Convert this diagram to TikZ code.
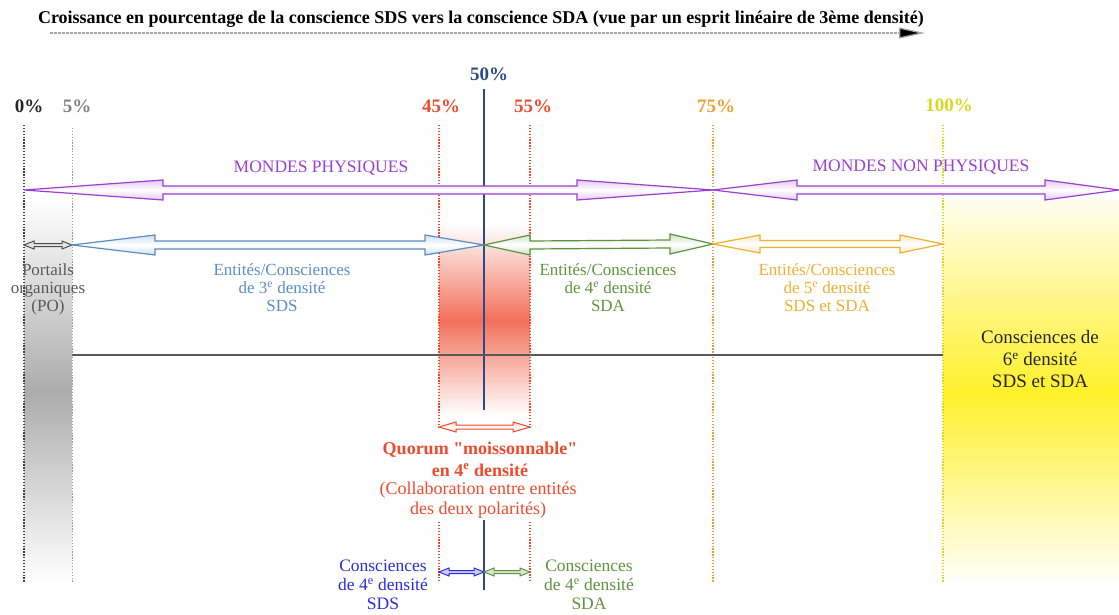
\documentclass[tikz,border=0pt]{standalone}
\usepackage{fontspec}
\setmainfont{Liberation Serif}
\newfontfamily\policeserif{Liberation Serif}
\usepackage{tikz}
\usetikzlibrary{calc,arrows.meta}
\definecolor{violet_f}{HTML}{9B3FD2}
\definecolor{bleu_f}{HTML}{5B8EC4}
\definecolor{bleu_t}{HTML}{2A4A8C}
\definecolor{bleu_v}{HTML}{2B2BE0}
\definecolor{vert_f}{HTML}{5E9440}
\definecolor{orange_f}{HTML}{F0B030}
\definecolor{orange_p}{HTML}{F0A030}
\definecolor{jaune_p}{HTML}{D8D820}
\definecolor{jaune_f}{HTML}{FFF02A}
\definecolor{rouge_f}{HTML}{F04A2C}
\definecolor{rouge_b}{HTML}{F2705A}

% double fleche pleine : #1 gauche, #2 droite, #3 pointe gauche, #4 pointe droite,
% #5 demi-hauteur de pointe, #6 demi-hauteur du corps, #7 style
\newcommand{\doublefleche}[7]{%
  \draw[#7] (#1) -- ($(#1)+(#3,#5)$) -- ($(#1)+(#3,#6)$) -- ($(#2)+(-#4,#6)$)
    -- ($(#2)+(-#4,#5)$) -- (#2) -- ($(#2)+(-#4,-#5)$) -- ($(#2)+(-#4,-#6)$)
    -- ($(#1)+(#3,-#6)$) -- ($(#1)+(#3,-#5)$) -- cycle;}

\tikzset{
  pourcent/.style={font=\policeserif\fontsize{19}{20}\selectfont\bfseries},
  etiquette/.style={align=center, font=\policeserif\fontsize{17}{18}\selectfont},
  quorum/.style={align=center, text=rouge_f, font=\policeserif\fontsize{18}{20}\selectfont},
  repere/.style={line width=1.3pt, dash pattern=on 1.3pt off 1.6pt},
  degrade/.style={top color=#1!28, bottom color=#1!28, middle color=white},
}

\begin{document}
\begin{tikzpicture}[x=1pt,y=-1pt,>=stealth]
    \useasboundingbox (0,0) rectangle (1119,615);

    % Abscisses des pourcentages
    \coordinate (p0) at (24,0);
    \coordinate (p5) at (72,0);
    \coordinate (p45) at (439,0);
    \coordinate (p50) at (484,0);
    \coordinate (p55) at (530,0);
    \coordinate (p75) at (713,0);
    \coordinate (p100) at (943,0);

    % Zones en degrade
    \fill[top color=white, bottom color=white, middle color=gray!65] (24,200) rectangle (72,582);
    \fill[top color=white, bottom color=white, middle color=rouge_b] (439,225) rectangle (530,415);
    \fill[top color=jaune_f!8, bottom color=white, middle color=jaune_f] (943,200) rectangle (1119,585);

    % Titre et sa fleche
    \node[font=\policeserif\fontsize{18}{20}\selectfont\bfseries] (titre) at (481,19)
        {Croissance en pourcentage de la conscience SDS vers la conscience SDA (vue par un esprit linéaire de 3ème densité)};
    \coordinate (ta) at (50,33);
    \coordinate (tb) at (925,33);
    \draw[gray!70, line width=1.3pt, dash pattern=on 3pt off 1pt, -{Triangle[length=26pt,width=11pt,fill=black]}] (ta) -- (tb);

    % Etiquettes des pourcentages
    \node[pourcent, text=black!85] (l0) at (29,106) {0\%};
    \node[pourcent, text=gray] (l5) at (77,106) {5\%};
    \node[pourcent, text=rouge_f] (l45) at (441,106) {45\%};
    \node[pourcent, text=bleu_t] (l50) at (489,74) {50\%};
    \node[pourcent, text=rouge_f] (l55) at (533,106) {55\%};
    \node[pourcent, text=orange_p] (l75) at (716,106) {75\%};
    \node[pourcent, text=jaune_p] (l100) at (949,105) {100\%};

    % Reperes verticaux
    \draw[repere, black!75] (p0 |- 0,125) -- (p0 |- 0,582);
    \draw[repere, gray!80, line width=1pt] (p5 |- 0,128) -- (p5 |- 0,582);
    \draw[repere, orange_p] (p75 |- 0,125) -- (p75 |- 0,582);
    \draw[repere, jaune_p] (p100 |- 0,125) -- (p100 |- 0,582);
    \foreach \p in {p45,p55} {
        \draw[repere, rouge_f] (\p |- 0,125) -- (\p |- 0,427);
        \draw[repere, rouge_f] (\p |- 0,522) -- (\p |- 0,582);
    }
    \draw[bleu_t, line width=1.3pt] (p50 |- 0,89) -- (p50 |- 0,410);
    \draw[bleu_t, line width=1.3pt] (p50 |- 0,520) -- (p50 |- 0,590);

    % Ligne horizontale
    \draw[black!65, line width=2pt] (p5 |- 0,355) -- (p100 |- 0,355);

    % Mondes physiques / non physiques
    \coordinate (mp-g) at (24,190);
    \coordinate (mp-d) at (713,190);
    \coordinate (mnp-d) at (1119,190);
    \doublefleche{mp-g}{mp-d}{139}{136}{10}{4}{violet_f, line width=1.2pt, degrade=violet_f}
    \doublefleche{mp-d}{mnp-d}{84}{74}{10}{4}{violet_f, line width=1.2pt, degrade=violet_f}
    \node[etiquette, text=violet_f, font=\policeserif\fontsize{17.5}{18}\selectfont] (mp) at (321,168) {MONDES PHYSIQUES};
    \node[etiquette, text=violet_f, font=\policeserif\fontsize{17.5}{18}\selectfont] (mnp) at (921,167) {MONDES NON PHYSIQUES};

    % Entites par densite
    \coordinate (d-0) at (24,245);
    \coordinate (d-5) at (72,245);
    \coordinate (d-50) at (484,245);
    \coordinate (d-75) at (713,244);
    \coordinate (d-100) at (943,244);
    \doublefleche{d-0}{d-5}{10}{10}{4}{1.5}{black!70, line width=1pt, fill=gray!20}
    \doublefleche{d-5}{d-50}{83}{59}{10}{4}{bleu_f, line width=1.2pt, degrade=bleu_f}
    \doublefleche{d-50}{d-75}{46}{43}{10}{4}{vert_f, line width=1.2pt, degrade=vert_f}
    \doublefleche{d-75}{d-100}{47}{43}{9}{3.5}{orange_f, line width=1.2pt, degrade=orange_f}

    \node[etiquette, text=black!65] (po) at (48,289) {Portails\\organiques\\(PO)};
    \node[etiquette, text=bleu_f] (e3) at (282,288) {Entités/Consciences\\de 3\textsuperscript{e} densité\\SDS};
    \node[etiquette, text=vert_f] (e4) at (608,288) {Entités/Consciences\\de 4\textsuperscript{e} densité\\SDA};
    \node[etiquette, text=orange_f] (e5) at (827,288) {Entités/Consciences\\de 5\textsuperscript{e} densité\\SDS et SDA};
    \node[etiquette, text=black!85, font=\policeserif\fontsize{19}{22}\selectfont] (e6) at (1040,359) {Consciences de\\6\textsuperscript{e} densité\\SDS et SDA};

    % Quorum moissonnable
    \coordinate (q-g) at (439,427);
    \coordinate (q-d) at (530,427);
    \doublefleche{q-g}{q-d}{17}{17}{5}{2}{rouge_f, line width=1pt, degrade=rouge_f}
    \node[quorum, font=\policeserif\fontsize{18}{22}\selectfont\bfseries] (q1) at (480,459) {Quorum "moissonnable"\\en 4\textsuperscript{e} densité};
    \node[quorum] (q2) at (478,500) {(Collaboration entre entités\\des deux polarités)};

    % Consciences de 4e densite SDS / SDA
    \coordinate (c-g) at (439,572);
    \coordinate (c-m) at (484,572);
    \coordinate (c-d) at (530,572);
    \doublefleche{c-g}{c-m}{10}{10}{4}{1.5}{bleu_v, line width=1pt, fill=bleu_v!25}
    \doublefleche{c-m}{c-d}{10}{10}{4}{1.5}{vert_f, line width=1pt, fill=vert_f!25}
    \node[etiquette, text=bleu_v, font=\policeserif\fontsize{17.5}{19}\selectfont] (sds) at (383,585) {Consciences\\de 4\textsuperscript{e} densité\\SDS};
    \node[etiquette, text=vert_f, font=\policeserif\fontsize{17.5}{19}\selectfont] (sda) at (589,585) {Consciences\\de 4\textsuperscript{e} densité\\SDA};
\end{tikzpicture}
\end{document}
